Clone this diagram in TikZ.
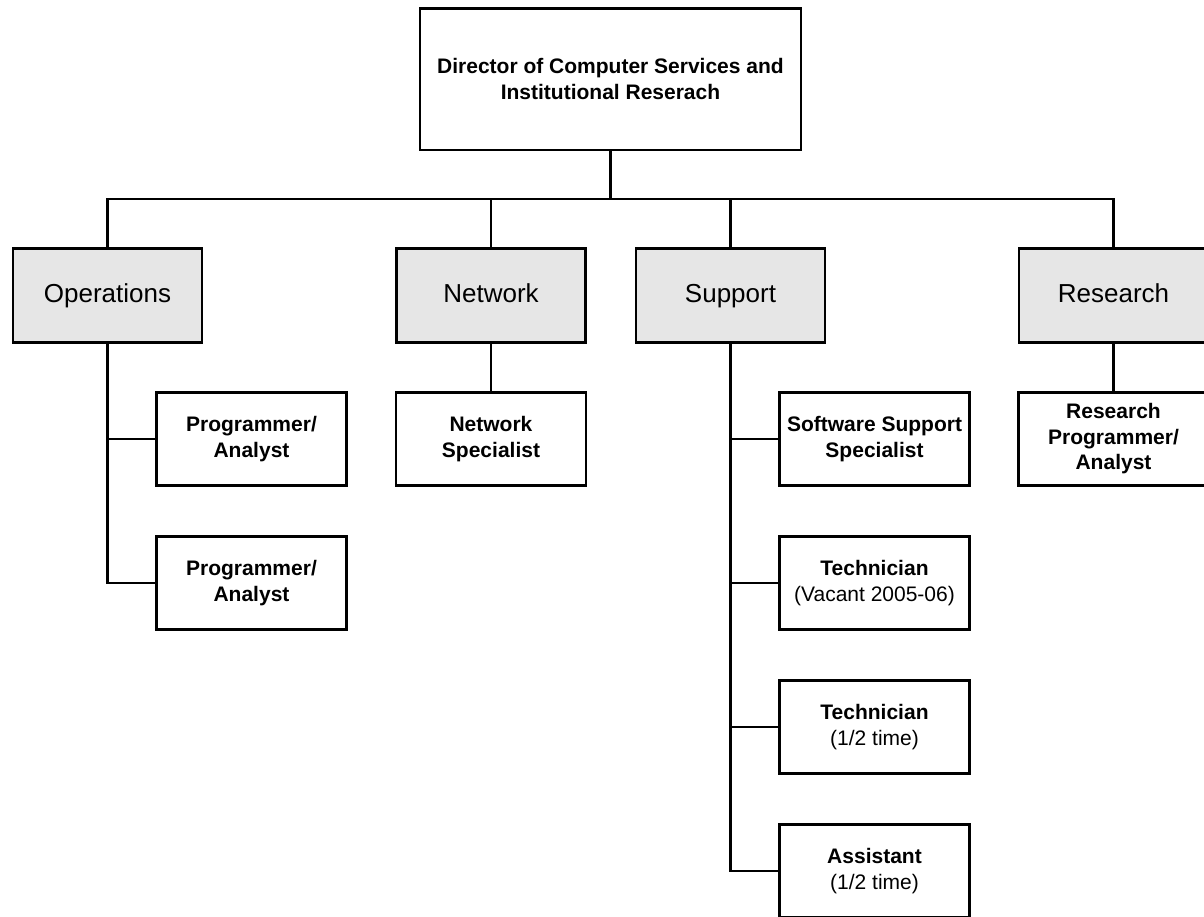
\documentclass[tikz,border=0pt]{standalone}
\usepackage{fontspec}
\setmainfont{Liberation Sans}
\definecolor{boxgray}{HTML}{E6E6E6}
\tikzset{
  x=1pt, y=-1pt,
  conn/.style={line width=2.8pt, black},
  topbox/.style={draw=black, line width=2.8pt, fill=white, minimum width=381pt, minimum height=141.5pt, inner sep=0pt, align=center, font=\fontsize{21}{26}\selectfont\bfseries},
  unitbox/.style={draw=black, line width=2.8pt, fill=boxgray, minimum width=189pt, minimum height=94pt, inner sep=0pt, text height=19pt, text depth=5pt, font=\fontsize{26}{31}\selectfont},
  rolebox/.style={draw=black, line width=2.8pt, fill=white, minimum width=190pt, minimum height=93.5pt, inner sep=0pt, align=center, font=\fontsize{21}{25.5}\selectfont},
}
\begin{document}
\begin{tikzpicture}
\useasboundingbox (0,0) rectangle (1204,917);
\clip (0,0) rectangle (1204,917);
\fill[white] (0,0) rectangle (1204,917);

\node[topbox] (dir) at (610.5,79.2) {Director of Computer Services and\\Institutional Reserach};

\node[unitbox] (ops) at (107.5,295.5) {Operations};
\node[unitbox] (net) at (491,295.5) {Network};
\node[unitbox] (sup) at (730.5,295.5) {Support};
\node[unitbox] (res) at (1113.5,295.5) {Research};

\node[rolebox] (p1) at (251.5,439) {\textbf{Programmer/}\\\textbf{Analyst}};
\node[rolebox] (p2) at (251.5,583) {\textbf{Programmer/}\\\textbf{Analyst}};
\node[rolebox] (ns) at (491,439) {\textbf{Network}\\\textbf{Specialist}};
\node[rolebox] (ss) at (874.5,439) {\textbf{Software Support}\\\textbf{Specialist}};
\node[rolebox] (t1) at (874.5,583) {\textbf{Technician}\\(Vacant 2005-06)};
\node[rolebox] (t2) at (874.5,727) {\textbf{Technician}\\(1/2 time)};
\node[rolebox] (as) at (874.5,871) {\textbf{Assistant}\\(1/2 time)};
\node[rolebox] (rp) at (1113.5,439) {\textbf{Research}\\\textbf{Programmer/}\\\textbf{Analyst}};

\coordinate (bar) at (610.5,199);

\draw[conn] (dir.south) -- (dir.south |- bar);
\draw[conn] (ops.north) -- (ops.north |- bar) -- (res.north |- bar) -- (res.north);
\draw[conn] (net.north) -- (net.north |- bar);
\draw[conn] (sup.north) -- (sup.north |- bar);

\draw[conn] (ops.south) -- (ops.south |- p2.west) -- (p2.west);
\draw[conn] (ops.south |- p1.west) -- (p1.west);

\draw[conn] (net.south) -- (ns.north);
\draw[conn] (res.south) -- (rp.north);

\draw[conn] (sup.south) -- (sup.south |- as.west) -- (as.west);
\draw[conn] (sup.south |- ss.west) -- (ss.west);
\draw[conn] (sup.south |- t1.west) -- (t1.west);
\draw[conn] (sup.south |- t2.west) -- (t2.west);
\end{tikzpicture}
\end{document}
